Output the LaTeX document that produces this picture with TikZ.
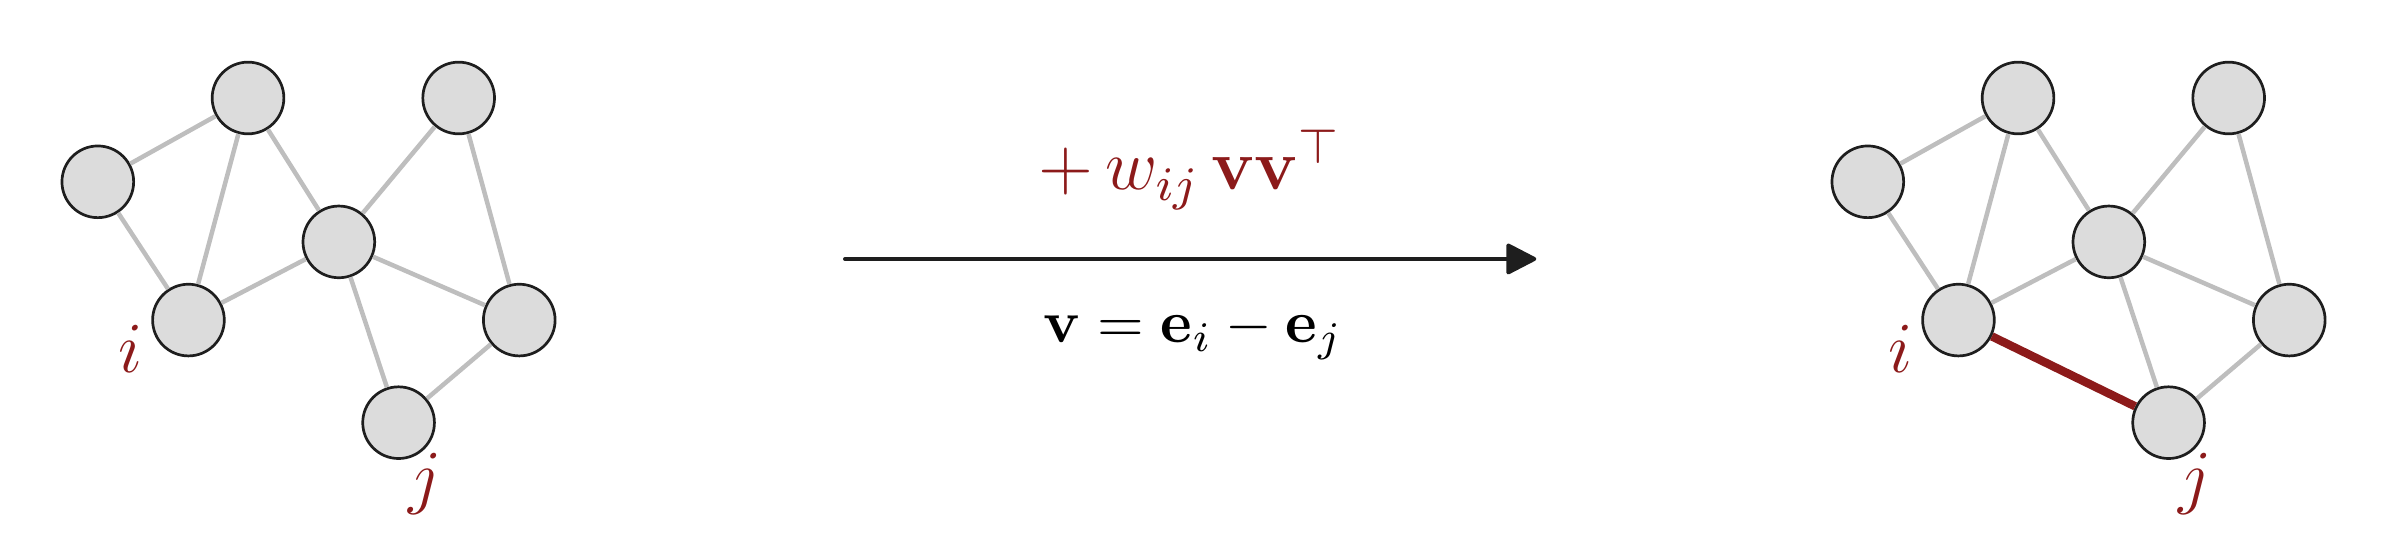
\documentclass[tikz,border=0pt]{standalone}
\usetikzlibrary{arrows.meta}
\definecolor{darkred}{RGB}{140,26,26}
\definecolor{nodegray}{RGB}{220,220,220}
\definecolor{edgegray}{RGB}{190,190,190}
\definecolor{arrowblack}{RGB}{30,30,30}
\tikzset{
  vertex/.style={circle, draw=arrowblack, line width=0.45pt, fill=nodegray, minimum size=0.42cm, inner sep=0pt},
  edge/.style={draw=edgegray, line width=0.75pt},
  edgehl/.style={draw=darkred, line width=1.4pt},
  lbl/.style={text=darkred, font=\large, inner sep=0pt},
  maparrow/.style={draw=arrowblack, line width=0.65pt, line cap=round, -{Triangle[round, length=5.4pt, width=5.4pt]}}
}
% the graph, drawn twice
\newcommand{\netgraph}{
    \node[vertex] (va) at (0.573,2.057) {};
    \node[vertex] (vb) at (1.453,2.548) {};
    \node[vertex] (vc) at (2.687,2.548) {};
    \node[vertex] (vd) at (1.985,1.705) {};
    \node[vertex] (vi) at (1.104,1.247) {};
    \node[vertex] (vf) at (3.042,1.247) {};
    \node[vertex] (vj) at (2.335,0.646) {};
    \draw[edge] (va) -- (vb);
    \draw[edge] (va) -- (vi);
    \draw[edge] (vb) -- (vi);
    \draw[edge] (vb) -- (vd);
    \draw[edge] (vc) -- (vd);
    \draw[edge] (vc) -- (vf);
    \draw[edge] (vd) -- (vi);
    \draw[edge] (vd) -- (vf);
    \draw[edge] (vd) -- (vj);
    \draw[edge] (vf) -- (vj);
    \node[lbl] (li) at (0.762,1.081) {$i$};
    \node[lbl] (lj) at (2.488,0.290) {$j$};
}
\begin{document}
\begin{tikzpicture}
    \useasboundingbox (0,0) rectangle (13.96,3.122);
    % before
    \begin{scope}[name prefix=l-]
      \netgraph
    \end{scope}
    % the update
    \coordinate (start) at (4.95,1.605);
    \coordinate (end) at (9.0,1.605);
    \draw[maparrow] (start) -- (end);
    \node[anchor=base, text=darkred, font=\large, inner sep=0pt] (upd) at (6.97,2.009) {$+\,w_{ij}\,\mathbf{v}\mathbf{v}^{\top}$};
    \node[anchor=base, inner sep=0pt] (vec) at (6.99,1.113) {$\mathbf{v}=\mathbf{e}_i-\mathbf{e}_j$};
    % after
    \begin{scope}[name prefix=r-, shift={(10.369,0)}]
      \netgraph
      \draw[edgehl] (vi) -- (vj);
    \end{scope}
\end{tikzpicture}
\end{document}
